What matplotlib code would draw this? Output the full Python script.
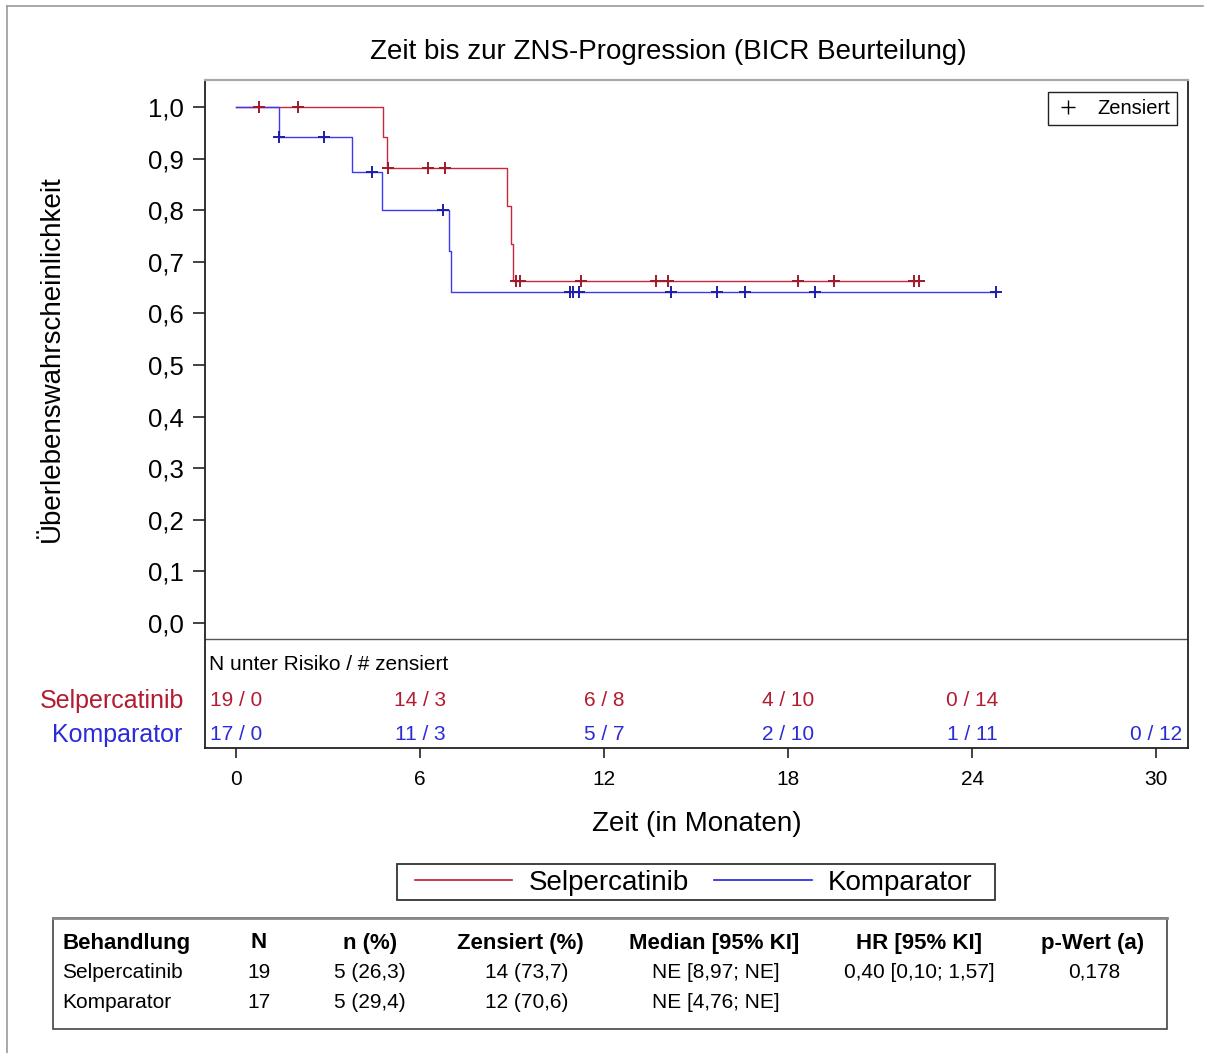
import numpy as np
import matplotlib
matplotlib.use("Agg")
import matplotlib.pyplot as plt
from matplotlib.lines import Line2D
from matplotlib.patches import Rectangle
import matplotlib.transforms as mtransforms

plt.rcParams['font.family'] = ['Liberation Sans', 'DejaVu Sans']

# ---------------- data ----------------
title = "Zeit bis zur ZNS-Progression (BICR Beurteilung)"
groups = ["Selpercatinib", "Komparator"]

# Kaplan-Meier step curves (time in months, survival probability)
sel_step_t = [0.0, 4.80, 4.91, 8.83, 8.98, 9.04, 22.26]
sel_step_s = [1.000, 0.941, 0.882, 0.809, 0.735, 0.662, 0.662]
sel_cens_t = [0.75, 2.02, 4.97, 6.27, 6.81, 9.12, 9.26, 11.25, 13.68, 14.07,
              18.31, 19.51, 22.12, 22.26]

komp_step_t = [0.0, 1.40, 3.79, 4.76, 6.93, 7.00, 24.77]
komp_step_s = [1.000, 0.941, 0.874, 0.801, 0.721, 0.641, 0.641]
komp_cens_t = [1.40, 2.87, 4.42, 6.76, 10.90, 10.98, 11.18, 14.18, 15.67,
               16.61, 18.88, 24.77]

# number at risk table
risk_times = [0, 6, 12, 18, 24, 30]
sel_at_risk = [19, 14, 6, 4, 0]
sel_censored = [0, 3, 8, 10, 14]
komp_at_risk = [17, 11, 5, 2, 1, 0]
komp_censored = [0, 3, 7, 10, 11, 12]

x_ticks = [0, 6, 12, 18, 24, 30]
y_ticks = [0.0, 0.1, 0.2, 0.3, 0.4, 0.5, 0.6, 0.7, 0.8, 0.9, 1.0]

# summary table
table_header = ["Behandlung", "N", "n (%)", "Zensiert (%)", "Median [95% KI]",
                "HR [95% KI]", "p-Wert (a)"]
table_rows = [
    ["Selpercatinib", "19", "5 (26,3)", "14 (73,7)", "NE [8,97; NE]",
     "0,40 [0,10; 1,57]", "0,178"],
    ["Komparator", "17", "5 (29,4)", "12 (70,6)", "NE [4,76; NE]", "", ""],
]

# ---------------- styles ----------------
W, H = 1206, 1053
RED_LINE = "#C8283C"
BLUE_LINE = "#3A3AF0"
RED_MARK = "#9E1A2A"
BLUE_MARK = "#1E1EA8"
RED_TXT = "#B31B30"
BLUE_TXT = "#2B2BD8"

fig = plt.figure(figsize=(W / 100, H / 100), dpi=100)

def fx(px):
    return px / W

def fy(py):
    return 1 - py / H

# outer frame lines (top and left)
fig.add_artist(Line2D([fx(7), fx(1203)], [fy(6), fy(6)], color="#9a9a9a", lw=1.2))
fig.add_artist(Line2D([fx(7), fx(7)], [fy(6), fy(1053)], color="#9a9a9a", lw=1.2))

ax = fig.add_axes([fx(205), fy(748), (1188 - 205) / W, (748 - 80) / H])
ax.set_xlim(-1.01, 31.04)
ax.set_ylim(-0.2422, 1.0523)

def step_value(ts, ss, c):
    i = np.searchsorted(ts, c, side="right") - 1
    return ss[max(i, 0)]

for ts, ss, cs, lc, mc in [
    (sel_step_t, sel_step_s, sel_cens_t, RED_LINE, RED_MARK),
    (komp_step_t, komp_step_s, komp_cens_t, BLUE_LINE, BLUE_MARK),
]:
    ax.step(ts, ss, where="post", color=lc, lw=1.0, zorder=3)
    cy = [step_value(ts, ss, c) for c in cs]
    ax.plot(cs, cy, linestyle="none", marker="+", markersize=8, mew=1.4,
            color=mc, zorder=4)

# spines
for side in ["left", "right", "bottom"]:
    ax.spines[side].set_color("#222222")
    ax.spines[side].set_linewidth(1.3)
ax.spines["top"].set_color("#a8a8a8")
ax.spines["top"].set_linewidth(1.6)

# separator above risk table
ax.axhline((623 - 639) / 516, color="#555555", lw=1.0)

ax.set_yticks(y_ticks)
ax.set_yticklabels([f"{v:.1f}".replace(".", ",") for v in y_ticks])
ax.set_xticks(x_ticks)
ax.set_xticklabels([str(v) for v in x_ticks])
ax.tick_params(axis="y", direction="out", length=9, width=1.2, pad=6,
               labelsize=18.5, colors="#222222", labelcolor="black")
ax.tick_params(axis="x", direction="out", length=7, width=1.2, pad=9,
               labelsize=15, colors="#222222", labelcolor="black")

# censored legend
leg_handle = Line2D([], [], linestyle="none", marker="+", markersize=10,
                    mew=1.0, color="black")
leg = ax.legend([leg_handle], ["Zensiert"], loc="upper right",
                bbox_to_anchor=((1177 - 205) / 983, (748 - 92) / 668),
                frameon=True, fancybox=False, edgecolor="#222222",
                framealpha=1, fontsize=14.5, handlelength=1.3,
                handletextpad=0.8, borderpad=0.35, borderaxespad=0)
leg.get_frame().set_linewidth(1.0)

# titles & labels
fig.text(fx(668), fy(52), title, ha="center", va="center", fontsize=20)
fig.text(fx(52), fy(359), "Überlebenswahrscheinlichkeit", rotation=90,
         ha="center", va="center", fontsize=20)
fig.text(fx(697), fy(824), "Zeit (in Monaten)", ha="center", va="center",
         fontsize=20)

# risk table
tr = mtransforms.blended_transform_factory(ax.transData, fig.transFigure)
fig.text(fx(209), fy(665), "N unter Risiko / # zensiert", ha="left",
         va="center", fontsize=15)
fig.text(fx(184), fy(701), groups[0], ha="right", va="center", fontsize=18,
         color=RED_TXT)
fig.text(fx(182), fy(735), groups[1], ha="right", va="center", fontsize=18,
         color=BLUE_TXT)
for t, n, c in zip(risk_times, sel_at_risk, sel_censored):
    ax.text(t, fy(700), f"{n} / {c}", transform=tr, ha="center", va="center",
            fontsize=15, color=RED_TXT)
for t, n, c in zip(risk_times, komp_at_risk, komp_censored):
    ax.text(t, fy(734), f"{n} / {c}", transform=tr, ha="center", va="center",
            fontsize=15, color=BLUE_TXT)

# bottom legend (box drawn separately)
h_sel = Line2D([], [], color="#C0182C", lw=1.2)
h_komp = Line2D([], [], color="#2020E0", lw=1.2)
bleg = fig.legend([h_sel, h_komp], groups, loc="center",
                  bbox_to_anchor=(fx(694), fy(883)), ncol=2, fontsize=20,
                  frameon=False, handlelength=3.5, handletextpad=0.6,
                  columnspacing=0.9, borderpad=0.25)
fig.add_artist(Rectangle((fx(397), fy(900)), fx(995) - fx(397),
                         fy(864) - fy(900), transform=fig.transFigure,
                         fill=False, edgecolor="#333333", lw=1.3))

# summary table box
fig.add_artist(Rectangle((fx(53), fy(1029)), fx(1167) - fx(53),
                         fy(918) - fy(1029), transform=fig.transFigure,
                         fill=False, edgecolor="#444444", lw=1.2))
fig.add_artist(Line2D([fx(53), fx(1167)], [fy(918), fy(918)],
                      color="#888888", lw=2.0))

col_x = [62, 259, 370, 520, 714, 919, 1093]
col_ha = ["left", "center", "center", "center", "center", "center", "center"]
row_y = [943, 972, 1002]
for j, txt in enumerate(table_header):
    fig.text(fx(col_x[j]), fy(row_y[0]), txt, ha=col_ha[j], va="center",
             fontsize=16, fontweight="bold")
row_col_x = [62, 259, 370, 527, 716, 919, 1094]
for i, row in enumerate(table_rows):
    for j, txt in enumerate(row):
        if txt:
            fig.text(fx(row_col_x[j]), fy(row_y[i + 1]), txt, ha=col_ha[j],
                     va="center", fontsize=15)

fig.savefig("out.png", dpi=100)
